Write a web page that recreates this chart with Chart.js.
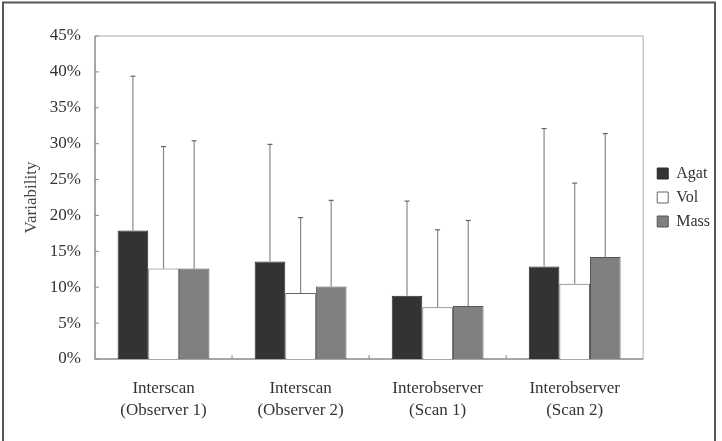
<!DOCTYPE html>
<html>
<head>
<meta charset="utf-8">
<script src="https://cdn.jsdelivr.net/npm/chart.js@4"></script>
<style>
  html, body { margin: 0; padding: 0; background: #fff; }
  #wrap { width: 722px; height: 441px; position: relative; }
</style>
</head>
<body>
<div id="wrap"><canvas id="chart" width="722" height="441"></canvas></div>
<script>
const categories = [
    ['Interscan', '(Observer 1)'],
    ['Interscan', '(Observer 2)'],
    ['Interobserver', '(Scan 1)'],
    ['Interobserver', '(Scan 2)']
];

// mean variability (%)
const agat = [17.9, 13.6, 8.8, 12.9];
const vol  = [12.6, 9.2, 7.2, 10.5];
const mass = [12.6, 10.1, 7.4, 14.2];

// top of the error bars (%)
const agatUpper = [39.4, 29.9, 22.0, 32.1];
const volUpper  = [29.6, 19.7, 18.0, 24.5];
const massUpper = [30.4, 22.1, 19.3, 31.4];

const yTicks = [0, 5, 10, 15, 20, 25, 30, 35, 40, 45];

const serif = '"Liberation Serif", "Times New Roman", serif';

// error bars, drawn on top of each bar
const errorBars = {
    id: 'errorBars',
    afterDatasetsDraw(chart) {
        const c = chart.ctx;
        const y = chart.scales.y;
        c.save();
        chart.data.datasets.forEach((ds, di) => {
            const meta = chart.getDatasetMeta(di);
            meta.data.forEach((bar, i) => {
                const top = y.getPixelForValue(ds.upper[i]);
                c.strokeStyle = '#888';
                c.lineWidth = 1.2;
                c.beginPath();
                c.moveTo(bar.x, bar.y);
                c.lineTo(bar.x, top);
                c.stroke();
                c.strokeStyle = '#666';
                c.beginPath();
                c.moveTo(bar.x - 2.5, top);
                c.lineTo(bar.x + 2.5, top);
                c.stroke();
            });
        });
        c.restore();
    }
};

// nudge the legend right and centre it on the plot area
const legendShift = {
    id: 'legendShift',
    afterLayout(chart) {
        const lg = chart.legend;
        if (lg) {
            lg.left += 6;
            lg.right += 6;
            lg.top = chart.chartArea.top;
            lg.bottom = chart.chartArea.bottom;
            lg.height = lg.bottom - lg.top;
        }
    }
};

// plot box, inner ticks and outer picture frame
const frame = {
    id: 'frame',
    beforeDatasetsDraw(chart) {
        const c = chart.ctx;
        const a = chart.chartArea;
        const x = chart.scales.x;
        const y = chart.scales.y;
        c.save();
        c.lineWidth = 1.5;
        c.strokeStyle = '#c8c8c8';
        c.beginPath();
        c.moveTo(a.left, a.top);
        c.lineTo(a.right, a.top);
        c.lineTo(a.right, a.bottom);
        c.stroke();
        c.strokeStyle = '#8a8a8a';
        c.beginPath();
        c.moveTo(a.left, a.top);
        c.lineTo(a.left, a.bottom);
        c.lineTo(a.right, a.bottom);
        c.stroke();
        c.lineWidth = 1;
        yTicks.forEach(v => {
            const py = y.getPixelForValue(v);
            c.beginPath();
            c.moveTo(a.left, py);
            c.lineTo(a.left + 4, py);
            c.stroke();
        });
        const half = (x.getPixelForValue(1) - x.getPixelForValue(0)) / 2;
        for (let i = 1; i < categories.length; i++) {
            const px = x.getPixelForValue(i) - half;
            c.beginPath();
            c.moveTo(px, a.bottom);
            c.lineTo(px, a.bottom - 4);
            c.stroke();
        }
        c.strokeStyle = '#555';
        c.lineWidth = 2;
        c.beginPath();
        c.moveTo(3, 441);
        c.lineTo(3, 2.5);
        c.lineTo(715, 2.5);
        c.lineTo(715, 441);
        c.stroke();
        c.restore();
    }
};

const ctx = document.getElementById('chart');

const chart = new Chart(ctx, {
    type: 'bar',
    data: {
        labels: categories,
        datasets: [
            { label: 'Agat', data: agat, upper: agatUpper, backgroundColor: '#333333', borderColor: '#2a2a2a', borderWidth: 1 },
            { label: 'Vol',  data: vol,  upper: volUpper,  backgroundColor: '#ffffff', borderColor: '#666666', borderWidth: 1 },
            { label: 'Mass', data: mass, upper: massUpper, backgroundColor: '#808080', borderColor: '#555555', borderWidth: 1 }
        ]
    },
    options: {
        responsive: false,
        animation: false,
        categoryPercentage: 0.67,
        barPercentage: 1.0,
        layout: { padding: { top: 36, bottom: 8, left: 0, right: 8 } },
        scales: {
            x: {
                grid: { display: false },
                border: { display: false },
                ticks: {
                    color: '#333',
                    padding: 11,
                    maxRotation: 0,
                    font: { family: serif, size: 17, lineHeight: '22px' }
                }
            },
            y: {
                min: 0,
                max: 45,
                afterFit: scale => { scale.width = 95; },
                grid: { display: false, drawTicks: false },
                border: { display: false },
                ticks: {
                    stepSize: 5,
                    padding: 14,
                    color: '#333',
                    font: { family: serif, size: 17 },
                    callback: v => v + '%'
                },
                title: {
                    display: true,
                    text: 'Variability',
                    color: '#444',
                    padding: { top: 21, bottom: 0 },
                    font: { family: serif, size: 17 }
                }
            }
        },
        plugins: {
            tooltip: { enabled: false },
            legend: {
                position: 'right',
                labels: {
                    boxWidth: 11,
                    boxHeight: 11,
                    padding: 8,
                    color: '#333',
                    font: { family: serif, size: 16 }
                }
            }
        }
    },
    plugins: [frame, errorBars, legendShift]
});
</script>
</body>
</html>
